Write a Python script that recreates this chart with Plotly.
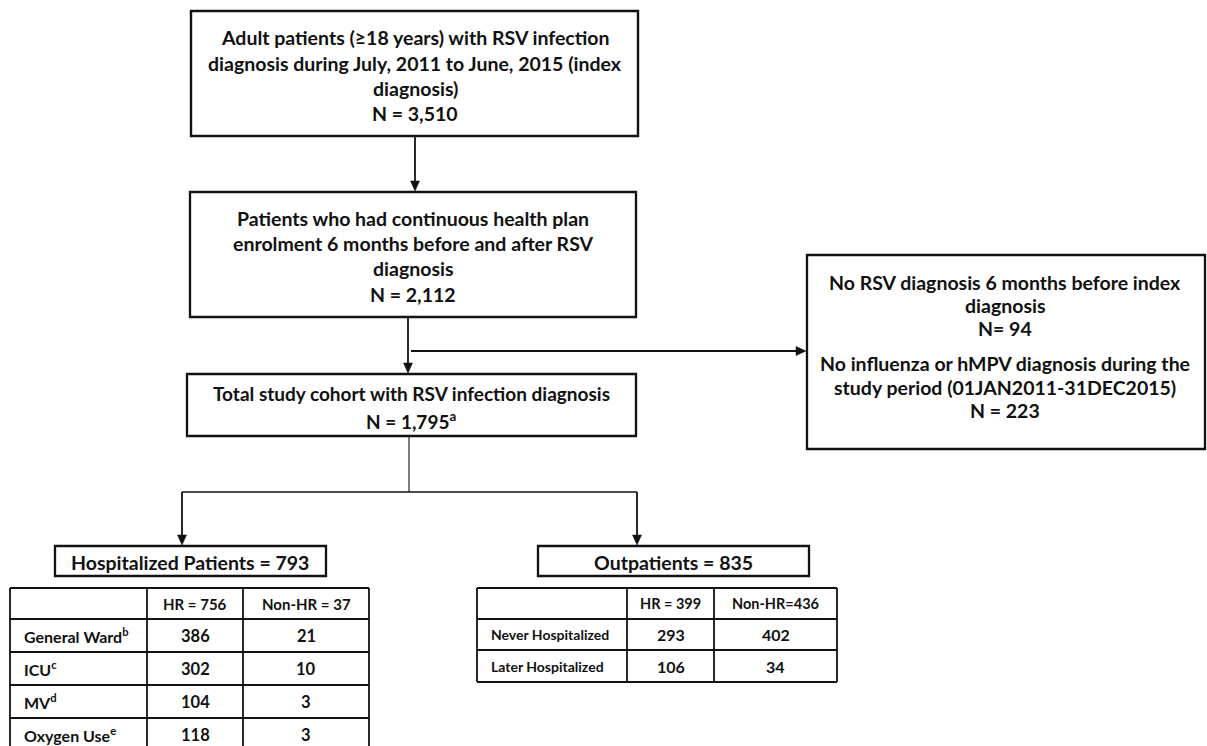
import plotly.graph_objects as go

# ---------------- data ----------------
box1_lines = ["Adult patients (≥18 years) with RSV infection",
              "diagnosis during July, 2011 to June, 2015 (index",
              "diagnosis)", "N = 3,510"]
box2_lines = ["Patients who had continuous health plan",
              "enrolment 6 months before and after RSV",
              "diagnosis", "N = 2,112"]
box3_lines = ["Total study cohort with RSV infection diagnosis",
              "N = 1,795<sup>a</sup>"]
box4_lines = ["No RSV diagnosis 6 months before index", "diagnosis", "N= 94",
              "No influenza or hMPV diagnosis during the",
              "study period (01JAN2011-31DEC2015)", "N = 223"]
hosp_title = "Hospitalized Patients = 793"
out_title = "Outpatients = 835"

hosp_header = ["", "HR = 756", "Non-HR = 37"]
hosp_rows = ["General Ward<sup>b</sup>", "ICU<sup>c</sup>", "MV<sup>d</sup>", "Oxygen Use<sup>e</sup>"]
hosp_hr = [386, 302, 104, 118]
hosp_nonhr = [21, 10, 3, 3]

out_header = ["", "HR = 399", "Non-HR=436"]
out_rows = ["Never Hospitalized", "Later Hospitalized"]
out_hr = [293, 106]
out_nonhr = [402, 34]

# ---------------- layout geometry ----------------
FONT = "Lato"
INK = "#111111"
W, H = 1207, 746
BOX_FS = 19.5

fig = go.Figure()
shapes = []
annos = []


def rect(x0, y0, x1, y1, w=2):
    shapes.append(dict(type="rect", x0=x0, y0=y0, x1=x1, y1=y1, xref="x", yref="y",
                       line=dict(color=INK, width=w), fillcolor="rgba(0,0,0,0)"))


def line(x0, y0, x1, y1, w=1.5):
    shapes.append(dict(type="line", x0=x0, y0=y0, x1=x1, y1=y1, xref="x", yref="y",
                       line=dict(color=INK, width=w)))


def arrow(x0, y0, x1, y1, w=1.8, hl=10, hw=4.5):
    # shaft ends at the base of the head; head is a filled triangle
    if x0 == x1:  # vertical
        d = 1 if y1 > y0 else -1
        by = y1 - d * hl
        line(x0, y0, x1, by + d * 1, w)
        path = f"M{x1 - hw},{by} L{x1 + hw},{by} L{x1},{y1} Z"
    else:  # horizontal
        d = 1 if x1 > x0 else -1
        bx = x1 - d * hl
        line(x0, y0, bx + d * 1, y1, w)
        path = f"M{bx},{y1 - hw} L{bx},{y1 + hw} L{x1},{y1} Z"
    shapes.append(dict(type="path", path=path, xref="x", yref="y",
                       fillcolor=INK, line=dict(color=INK, width=0.5)))


def text(x, y, s, size=BOX_FS, xanchor="center"):
    annos.append(dict(x=x, y=y, xref="x", yref="y", text="<b>" + s + "</b>", showarrow=False,
                      xanchor=xanchor, yanchor="middle",
                      font=dict(family=FONT, size=size, color=INK)))


# box 1
rect(191, 11, 638, 136, 2.4)
for s, y in zip(box1_lines, [37, 63, 88, 113]):
    text(415, y, s)
# box 2
rect(190, 192, 636, 317, 2.3)
for s, y in zip(box2_lines, [218, 243, 268, 294]):
    text(413, y, s)
# box 3
rect(187, 374, 636, 436, 2.3)
for s, y in zip(box3_lines, [393, 420]):
    text(411, y, s, size=19)
# box 4
rect(807, 255, 1205, 449, 2.3)
for s, y in zip(box4_lines, [282, 305, 328, 363, 387, 410]):
    text(1005, y, s)

# connectors
arrow(415, 137, 415, 191)
arrow(408, 318, 408, 373)
arrow(411, 351, 806, 351)
line(409, 436, 409, 492, 1.1)
line(182, 492, 637, 492, 1.3)
arrow(182, 492, 182, 545)
arrow(637, 492, 637, 545)

# titles
rect(55, 546, 326, 576, 2.3)
text(190, 562, hosp_title, size=19.5)
rect(538, 546, 809, 576, 2.3)
text(673, 562, out_title, size=19.5)


def table(xs, ys, header, rows, c1, c2, label_size, num_size, head_size):
    # grid
    for y in ys:
        line(xs[0], y, xs[-1], y, 1.8)
    for x in xs:
        line(x, ys[0], x, ys[-1], 1.8)
    # header
    for j in (1, 2):
        text((xs[j] + xs[j + 1]) / 2, (ys[0] + ys[1]) / 2, header[j], size=head_size)
    for i, lab in enumerate(rows):
        yc = (ys[i + 1] + ys[i + 2]) / 2
        text(xs[0] + 12, yc, lab, size=label_size, xanchor="left")
        text((xs[1] + xs[2]) / 2, yc, str(c1[i]), size=num_size)
        text((xs[2] + xs[3]) / 2, yc, str(c2[i]), size=num_size)


table([10, 147, 243, 369], [588, 619, 652, 685, 718, 751], hosp_header, hosp_rows,
      hosp_hr, hosp_nonhr, 16, 16.5, 15)
table([477, 627, 714, 837], [588, 619, 650, 682], out_header, out_rows,
      out_hr, out_nonhr, 14, 16, 14.5)

fig.update_layout(
    width=W, height=H, margin=dict(l=0, r=0, t=0, b=0),
    paper_bgcolor="white", plot_bgcolor="white",
    xaxis=dict(range=[0, W], visible=False, fixedrange=True),
    yaxis=dict(range=[H, 0], visible=False, fixedrange=True),
    shapes=shapes, annotations=annos, showlegend=False,
)
fig.write_html("out.html", config={"displayModeBar": False},
               post_script="document.body.style.margin='0';document.body.style.overflow='hidden';")
